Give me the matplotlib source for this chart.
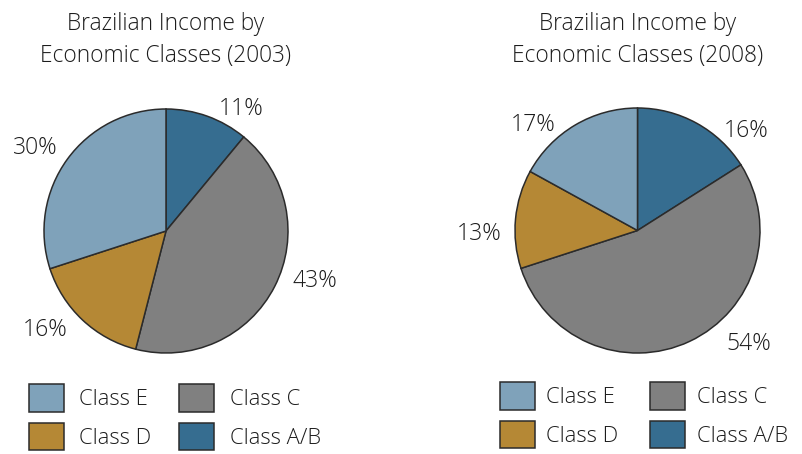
import matplotlib
matplotlib.use("Agg")
import matplotlib.pyplot as plt
from matplotlib.patches import Patch

# ---- data ----
classes = ["Class A/B", "Class C", "Class D", "Class E"]
shares_2003 = [11, 43, 16, 30]
shares_2008 = [16, 54, 13, 17]
titles = ["Brazilian Income by\nEconomic Classes (2003)",
          "Brazilian Income by\nEconomic Classes (2008)"]
legend_order = ["Class E", "Class D", "Class C", "Class A/B"]

# ---- style / layout ----
colors = {"Class A/B": "#366d90", "Class C": "#808080",
          "Class D": "#b58835", "Class E": "#7fa2ba"}
edge = "#2b2b2b"
txt = "#1c1c1c"
plt.rcParams['font.family'] = ['Open Sans', 'DejaVu Sans']
plt.rcParams['font.weight'] = 'light'
FW = 'light'

W, H = 803, 454
fig = plt.figure(figsize=(W / 100, H / 100), dpi=100)

pies = [dict(cx=166, cy=231, r=122, data=shares_2003, title=titles[0],
             label_pos=[(0.62, 1.0), (1.22, -0.41), (-0.99, -0.81), (-1.07, 0.68)],
             leg=(29, 384), tpad=0.7, cspace=1.27),
        dict(cx=637.5, cy=230.5, r=122.5, data=shares_2008, title=titles[1],
             label_pos=[(0.89, 0.81), (0.91, -0.93), (-1.29, -0.03), (-0.85, 0.86)],
             leg=(500, 382), tpad=0.52, cspace=1.45)]

FS_T, FS_L, FS_P = 16.4, 15.8, 16.5

for p in pies:
    r = p["r"]
    ax = fig.add_axes([(p["cx"] - r) / W, (H - p["cy"] - r) / H, 2 * r / W, 2 * r / H])
    ax.pie(p["data"], colors=[colors[c] for c in classes], startangle=90,
           counterclock=False, radius=1.0,
           wedgeprops=dict(edgecolor=edge, linewidth=1.1))
    ax.set_xlim(-1, 1)
    ax.set_ylim(-1, 1)
    ax.set_aspect("equal")
    ax.axis("off")
    for v, (lx, ly) in zip(p["data"], p["label_pos"]):
        ax.text(lx, ly, f"{v}%", ha="center", va="center", fontsize=FS_P,
                color=txt, clip_on=False, fontweight=FW)
    fig.text(p["cx"] / W, 1 - 40 / H, p["title"], ha="center", va="center",
             fontsize=FS_T, color=txt, linespacing=1.42, fontweight=FW)
    handles = [Patch(facecolor=colors[c], edgecolor=edge, linewidth=1.1)
               for c in legend_order]
    lx, ly = p["leg"]
    leg = fig.legend(handles, legend_order, ncol=2, frameon=False,
                     loc="upper left", bbox_to_anchor=(lx / W, 1 - ly / H),
                     prop=dict(size=FS_L, weight=FW),
                     handlelength=25.2 / FS_L, handleheight=1.56,
                     handletextpad=p["tpad"], labelspacing=0.5,
                     columnspacing=p["cspace"], borderpad=0, borderaxespad=0)
    for t in leg.get_texts():
        t.set_color(txt)

fig.savefig("out.png", dpi=100)
